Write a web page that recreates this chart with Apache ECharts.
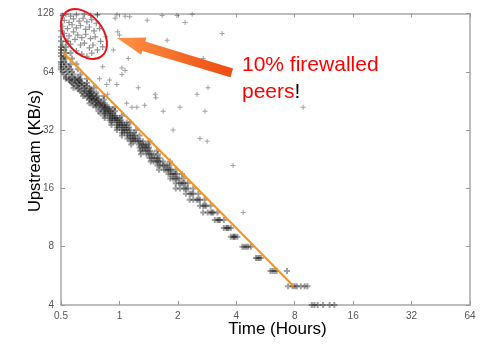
<!DOCTYPE html>
<html><head><meta charset="utf-8">
<script src="https://cdn.jsdelivr.net/npm/echarts/dist/echarts.min.js"></script>
<style>html,body{margin:0;padding:0;background:#fff}#c{width:485px;height:345px}</style>
</head><body><div id="c"></div>
<script>
const xTicks = [0.5, 1, 2, 4, 8, 16, 32, 64];
const yTicks = [4, 8, 16, 32, 64, 128];

// main diagonal band of peers [hours, KB/s]
const bandPoints = [
[9.8,4],[10.1,4],[10.5,4],[11.2,4],[12.1,4],[12.8,4],
[7.4,5],[7.8,5],[8.0,5],[8.2,5],[8.6,5],[9.0,5],[9.3,5],
[6.0,6],[6.15,6],[6.3,6],[6.45,6],[7.3,6],
[5.05,7],[5.15,7],[5.25,7],[5.35,7],
[4.3,8],[4.4,8],[4.5,8],[4.6,8],[4.75,8],
[3.75,9],[3.85,9],[3.9,9],[3.95,9],[4.05,9],
[3.45,10],[3.55,10],[3.6,10],[3.65,10],[3.75,10],
[3.1,11],[3.2,11],[3.25,11],[3.3,11],[3.45,11],
[2.7,12],[2.85,12],[2.95,12],[3.0,12],[3.05,12],[3.2,12],
[2.6,13],[2.7,13],[2.75,13],[2.8,13],[2.95,13],
[2.3,14],[2.4,14],[2.5,14],[2.55,14],[2.6,14],[2.75,14],
[2.2,15],[2.3,15],[2.35,15],[2.4,15],[2.55,15],
[1.95,16],[2.05,16],[2.15,16],[2.2,16],[2.25,16],[2.4,16],
[1.95,17],[2.03,17],[2.08,17],[2.12,17],[2.17,17],[2.25,17],
[1.83,18],[1.89,18],[1.94,18],[1.98,18],[2.03,18],[2.14,18],
[1.79,19],[1.84,19],[1.89,19],[1.93,19],[1.97,19],[2.1,19],
[1.6,20],[1.7,20],[1.74,20],[1.78,20],[1.82,20],[1.85,20],[1.95,20],
[1.57,21],[1.62,21],[1.67,21],[1.71,21],[1.76,21],[1.81,21],
[1.45,22],[1.5,22],[1.55,22],[1.58,22],[1.61,22],[1.68,22],[1.82,22],
[1.43,23],[1.47,23],[1.52,23],[1.56,23],[1.61,23],
[1.29,24],[1.38,24],[1.42,24],[1.46,24],[1.5,24],[1.58,24],
[1.28,25],[1.32,25],[1.36,25],[1.4,25],[1.44,25],[1.56,25],
[1.27,26],[1.31,26],[1.35,26],[1.38,26],[1.42,26],
[1.15,27],[1.26,27],[1.3,27],[1.33,27],[1.37,27],[1.41,27],
[1.14,28],[1.18,28],[1.21,28],[1.25,28],[1.28,28],[1.32,28],[1.43,28],
[1.1,29],[1.14,29],[1.17,29],[1.2,29],[1.24,29],
[1.03,30],[1.1,30],[1.13,30],[1.17,30],[1.2,30],[1.27,30],
[1.03,31],[1.06,31],[1.1,31],[1.14,31],[1.19,31],
[0.97,32],[1.03,32],[1.06,32],[1.09,32],[1.13,32],[1.22,32],
[0.97,33],[1.0,33],[1.04,33],[1.08,33],[1.12,33],
[0.91,34],[0.97,34],[1.0,34],[1.03,34],[1.06,34],[1.09,34],
[0.91,35],[0.97,35],[1.0,35],[1.03,35],[1.09,35],[1.14,35],
[0.89,36],[0.92,36],[0.95,36],[0.98,36],[1.02,36],
[0.84,37],[0.89,37],[0.92,37],[0.95,37],[0.97,37],[1.0,37],
[0.84,38],[0.89,38],[0.92,38],[0.95,38],[1.03,38],
[0.8,39],[0.84,39],[0.87,39],[0.9,39],[0.93,39],
[0.78,40],[0.83,40],[0.85,40],[0.88,40],[0.9,40],[0.95,40],
[0.8,41],[0.84,41],[0.88,41],[0.92,41],
[0.76,42],[0.81,42],[0.84,42],[0.86,42],[0.88,42],[0.95,42],
[0.73,43],[0.76,43],[0.79,43],[0.82,43],[0.84,43],
[0.7,44],[0.75,44],[0.78,44],[0.8,44],[0.84,44],
[0.72,45],[0.76,45],[0.8,45],
[0.7,46],[0.72,46],[0.74,46],[0.76,46],[0.78,46],[0.83,46],
[0.68,47],[0.72,47],[0.76,47],
[0.65,48],[0.69,48],[0.71,48],[0.73,48],[0.77,48],[0.83,48],
[0.66,49],[0.7,49],[0.74,49],
[0.64,50],[0.68,50],[0.7,50],[0.72,50],[0.76,50],
[0.63,51],[0.67,51],[0.71,51],
[0.61,52],[0.66,52],[0.71,52],
[0.58,53],[0.62,53],[0.66,53],[0.7,53],[0.74,53],
[0.6,54],[0.64,54],[0.68,54],
[0.58,55],[0.62,55],[0.66,55],
[0.57,56],[0.61,56],[0.64,56],[0.68,56],
[0.56,57],[0.6,57],[0.63,57],
[0.55,58],[0.59,58],[0.62,58],
[0.53,59],[0.56,59],[0.59,59],[0.63,59],[0.68,59],
[0.53,60],[0.57,60],[0.61,60],
[0.52,62],[0.55,62],[0.58,62],[0.63,62],
[0.51,64],[0.54,64],[0.57,64],
[0.5,66],[0.53,66],[0.56,66],[0.61,66],
[0.5,68],[0.52,68],[0.55,68],
[0.5,70],[0.53,70],[0.56,70],[0.6,70],
[0.5,72],[0.52,72],
[0.51,75],[0.53,75],[0.57,75],
[0.5,77],[0.52,77],
[0.5,80],[0.53,80],[0.56,80],
[0.5,83],[0.52,83],
[0.5,86],[0.53,86],
[0.5,92],[0.54,92]
];

// firewalled peers cluster (circled)
const firewalledPoints = [
[0.51,125],[0.53,127],[0.56,124],[0.6,126],[0.66,127],[0.71,125],[0.77,126],
[0.52,118],[0.55,115],[0.58,120],[0.62,117],[0.65,121],[0.68,116],[0.72,119],[0.76,114],
[0.51,110],[0.54,107],[0.57,112],[0.6,108],[0.63,111],[0.67,106],[0.7,109],[0.74,104],[0.79,107],
[0.52,101],[0.55,98],[0.58,103],[0.61,99],[0.64,96],[0.67,100],[0.71,95],[0.75,97],[0.8,92],
[0.53,92],[0.56,89],[0.59,94],[0.63,88],[0.66,90],[0.7,85],[0.73,88],[0.77,83],
[0.6,82],[0.64,79],[0.68,77],[0.72,80],[0.82,86],[0.5,97],[0.5,104],[0.51,88]
];

// sparse outliers
const scatterPoints = [
[0.77,126],[0.97,126],[1.07,124],[1.13,123],[1.39,118],[1.98,125],[2.37,127],[2.18,115],
[3.38,101],[1.76,93],[2.7,75],[2.86,53],[2.51,49],[2.05,42],[2.76,40],[1.68,40],[1.89,32],
[2.6,29],[2.83,28],[0.98,103],[1.0,99],[0.93,83],[1.11,75],[0.82,68],[1.07,65],[1.03,62],
[0.79,59],[0.89,58],[0.86,55],[1.54,47],[1.23,42],[3.85,21],[4.34,12],[8.84,42],
[1.09,44],[1.16,42],[1.35,43],[1.53,49],[1.25,53],[0.95,121],[1.66,125],[0.97,55],
[0.87,49],[1.03,67],[0.85,97]
];

// fitted trend line
const fitLine = [[0.51, 81], [7.9, 5]];

const chart = echarts.init(document.getElementById('c'), null, {renderer: 'canvas'});
const plus = 'path://M2 0h1v2h2v1h-2v2h-1v-2h-2v-1h2z';
const blob = 'path://M2 0h2v2h2v2h-2v2h-2v-2h-2v-2h2z';
const fmt = v => { const r = +(+v).toPrecision(3); return (xTicks.includes(r) || yTicks.includes(r)) ? String(r) : ''; };
const axisCommon = {
  type: 'log', logBase: 2, interval: 1,
  axisLine: {lineStyle: {color: '#a8a8a8', width: 1.5}},
  axisTick: {inside: true, length: 4, lineStyle: {color: '#999', width: 1}},
  splitLine: {show: false},
  minorTick: {show: false}
};
const scatterBase = {type: 'scatter', silent: true, animation: false, xAxisIndex: 0, yAxisIndex: 0};

chart.setOption({
  backgroundColor: '#fff',
  animation: false,
  grid: {left: 61, right: 15, top: 13.5, bottom: 40, containLabel: false},
  xAxis: [
    Object.assign({}, axisCommon, {min: 0.5, max: 64, position: 'bottom',
      axisLabel: {color: '#555', fontSize: 10, margin: 6, fontFamily: 'Liberation Sans', formatter: fmt}}),
    Object.assign({}, axisCommon, {min: 0.5, max: 64, position: 'top', axisLabel: {show: false}})
  ],
  yAxis: [
    Object.assign({}, axisCommon, {min: 4, max: 128, position: 'left',
      axisLabel: {color: '#555', fontSize: 10, margin: 7, fontFamily: 'Liberation Sans', formatter: fmt}}),
    Object.assign({}, axisCommon, {min: 4, max: 128, position: 'right', axisLabel: {show: false}})
  ],
  series: [
    Object.assign({}, scatterBase, {data: bandPoints, symbol: blob, symbolSize: 6,
      itemStyle: {color: 'rgba(15,15,15,0.5)'}}),
    Object.assign({}, scatterBase, {data: firewalledPoints, symbol: plus, symbolSize: 6,
      itemStyle: {color: 'rgba(30,30,30,0.6)'}}),
    Object.assign({}, scatterBase, {data: scatterPoints, symbol: plus, symbolSize: 5,
      itemStyle: {color: 'rgba(40,40,40,0.55)'}}),
    {type: 'line', data: fitLine, symbol: 'none', silent: true, animation: false,
      lineStyle: {color: '#F7931E', width: 2}, z: 5}
  ],
  graphic: [
    {type: 'ellipse', x: 84, y: 34, rotation: 0.68, z: 10,
      shape: {cx: 0, cy: 0, rx: 18.6, ry: 28.4},
      style: {fill: null, stroke: '#E8141C', lineWidth: 2}},
    {type: 'polygon', z: 10,
      shape: {points: [[117,38],[146.4,37.6],[145.3,41.4],[233.1,68.6],[230.5,77.2],[142.3,51.0],[141.2,54.8]]},
      style: {fill: new echarts.graphic.LinearGradient(0, 0, 1, 0, [
        {offset: 0, color: '#FF9444'}, {offset: 1, color: '#EE4A12'}], false)}},
    {type: 'text', x: 242, y: 52, z: 10,
      style: {text: '{r|10% firewalled}\n{r|peers}{k|!}', font: '21px "Liberation Sans", Arial, sans-serif',
        rich: {r: {fill: '#FF0000', fontSize: 21, lineHeight: 27, fontFamily: 'Liberation Sans'},
               k: {fill: '#000', fontSize: 21, lineHeight: 27, fontFamily: 'Liberation Sans'}}}},
    {type: 'text', x: 35, y: 151, rotation: Math.PI / 2, z: 10,
      style: {text: 'Upstream (KB/s)', fill: '#000', font: '16.5px "Liberation Sans", Arial, sans-serif',
        align: 'center', verticalAlign: 'middle'}},
    {type: 'text', x: 277.5, y: 329, z: 10,
      style: {text: 'Time (Hours)', fill: '#000', font: '17px "Liberation Sans", Arial, sans-serif',
        align: 'center', verticalAlign: 'middle'}}
  ]
});
</script>
</body></html>
